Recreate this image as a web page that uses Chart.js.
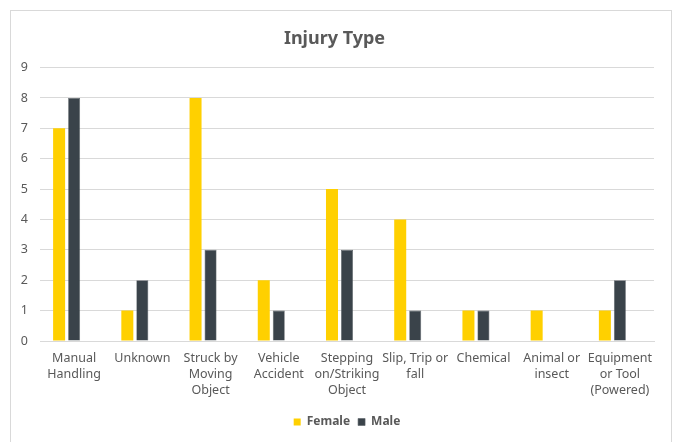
<!DOCTYPE html>
<html lang="en">
<head>
<meta charset="UTF-8">
<title>Injury Type</title>
<script src="https://cdn.jsdelivr.net/npm/chart.js"></script>
<style>
    html, body {
        margin: 0;
        padding: 0;
        background: #ffffff;
    }
    .chart-wrap {
        position: relative;
        width: 675px;
        height: 442px;
    }
    .chart-frame {
        position: absolute;
        left: 10px;
        top: 10px;
        width: 662px;
        height: 440px;
        border: 1px solid #d9d9d9;
        box-sizing: border-box;
    }
    canvas {
        position: absolute;
        left: 0;
        top: 0;
    }
</style>
</head>
<body>
<div class="chart-wrap">
    <div class="chart-frame"></div>
    <canvas id="injuryChart" width="675" height="442"></canvas>
</div>
<script>
    // Injury counts per category
    const categories = [
        ['Manual', 'Handling'],
        'Unknown',
        ['Struck by', 'Moving', 'Object'],
        ['Vehicle', 'Accident'],
        ['Stepping', 'on/Striking', 'Object'],
        ['Slip, Trip or', 'fall'],
        'Chemical',
        ['Animal or', 'insect'],
        ['Equipment', 'or Tool', '(Powered)']
    ];
    const femaleCounts = [7, 1, 8, 2, 5, 4, 1, 1, 1];
    const maleCounts = [8, 2, 3, 1, 3, 1, 1, 0, 2];
    // third column in the sheet is blank but still reserves a slot
    const otherCounts = [null, null, null, null, null, null, null, null, null];
    const yTicks = [0, 1, 2, 3, 4, 5, 6, 7, 8, 9];

    const textColor = '#595959';
    const fontFamily = '"Noto Sans", sans-serif';

    const ctx = document.getElementById('injuryChart').getContext('2d');
    new Chart(ctx, {
        type: 'bar',
        data: {
            labels: categories,
            datasets: [{
                label: 'Female',
                data: femaleCounts,
                backgroundColor: '#FFD000',
                borderWidth: 0
            }, {
                label: 'Male',
                data: maleCounts,
                backgroundColor: '#3A434A',
                borderColor: '#5a6166',
                borderWidth: 0.6
            }, {
                label: '',
                data: otherCounts,
                backgroundColor: '#A5A5A5'
            }]
        },
        options: {
            responsive: false,
            animation: false,
            devicePixelRatio: 1,
            categoryPercentage: 0.66,
            barPercentage: 0.8,
            layout: {
                padding: { left: 0, right: 6, top: 0, bottom: 4 }
            },
            plugins: {
                title: {
                    display: true,
                    text: 'Injury Type',
                    color: textColor,
                    font: { family: fontFamily, size: 18, weight: 'bold' },
                    padding: { top: 28, bottom: 18 }
                },
                legend: {
                    position: 'bottom',
                    fullSize: false,
                    labels: {
                        color: textColor,
                        font: { family: fontFamily, size: 12, weight: 'bold' },
                        boxWidth: 7,
                        boxHeight: 7,
                        padding: 8,
                        filter: item => item.datasetIndex < 2
                    }
                },
                tooltip: { enabled: false }
            },
            scales: {
                x: {
                    grid: { display: false, drawTicks: false },
                    border: { display: true, color: '#d9d9d9', width: 1 },
                    ticks: {
                        color: textColor,
                        font: { family: fontFamily, size: 12.5, lineHeight: 1.28 },
                        padding: 9,
                        maxRotation: 0,
                        autoSkip: false
                    },
                    afterFit: scale => { scale.height = 67; }
                },
                y: {
                    min: 0,
                    max: 9,
                    grid: { color: '#d9d9d9', lineWidth: 1, drawTicks: false },
                    border: { display: false },
                    afterBuildTicks: scale => {
                        scale.ticks = yTicks.map(v => ({ value: v }));
                    },
                    ticks: {
                        color: textColor,
                        font: { family: fontFamily, size: 12.5 },
                        padding: 12
                    },
                    afterFit: scale => { scale.width = 40; }
                },
                // empty right-hand margin axis, keeps the plot clear of the frame
                yRight: {
                    position: 'right',
                    display: true,
                    min: 0,
                    max: 9,
                    grid: { display: false, drawTicks: false },
                    border: { display: false },
                    ticks: { display: false },
                    afterFit: scale => { scale.width = 15; }
                }
            }
        }
    });
</script>
</body>
</html>
